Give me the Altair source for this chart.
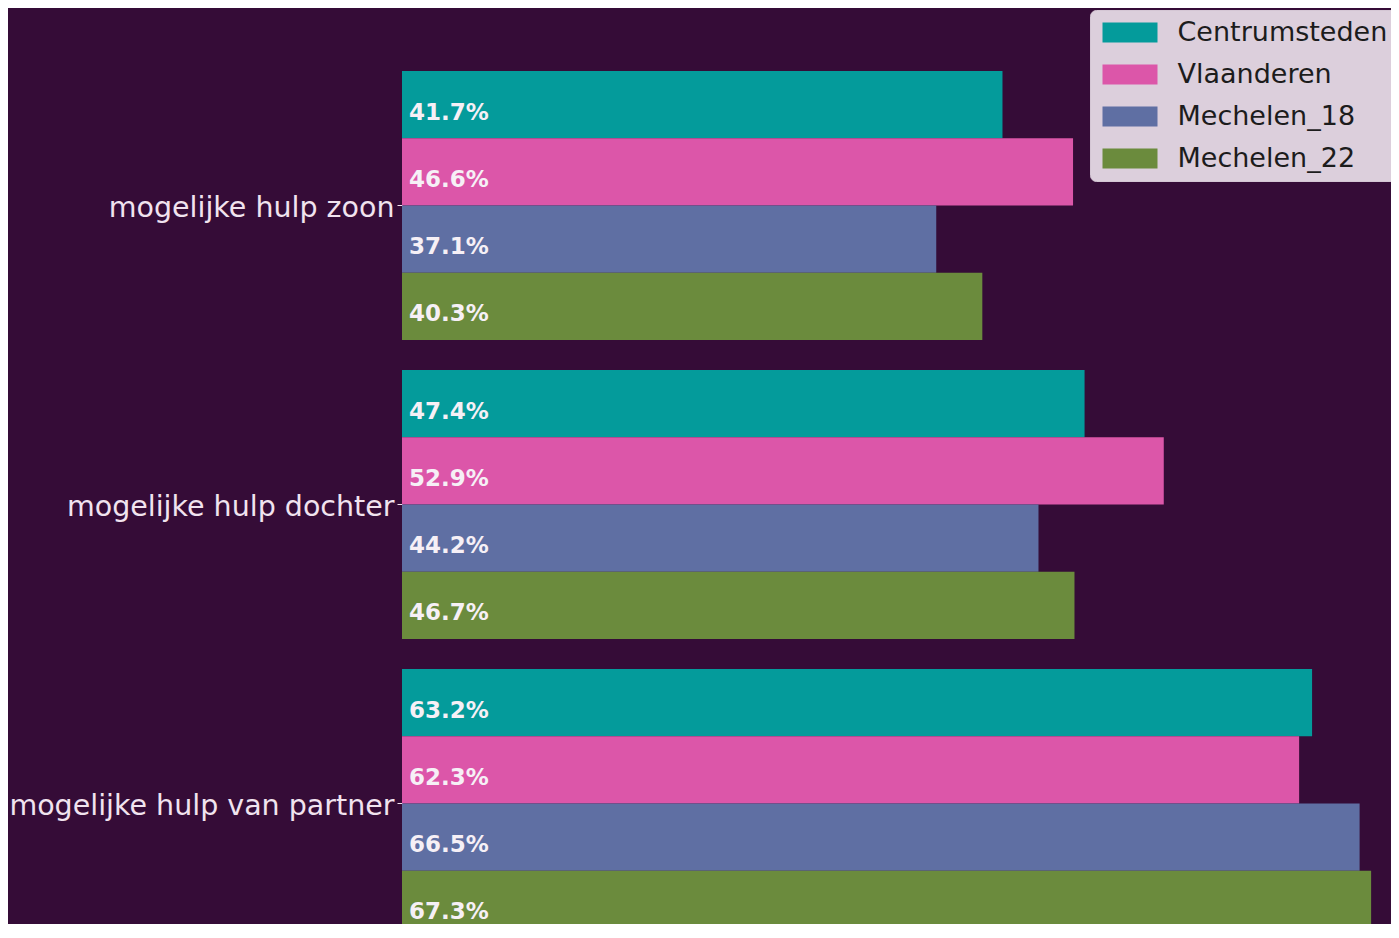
import altair as alt
import pandas as pd

categories = ["mogelijke hulp zoon", "mogelijke hulp dochter", "mogelijke hulp van partner"]
series = ["Centrumsteden", "Vlaanderen", "Mechelen_18", "Mechelen_22"]
centrumsteden = [41.7, 47.4, 63.2]
vlaanderen = [46.6, 52.9, 62.3]
mechelen_18 = [37.1, 44.2, 66.5]
mechelen_22 = [40.3, 46.7, 67.3]
colors = ["#049b9b", "#dc56a9", "#5f6fa3", "#6b8b3d"]

rows = []
for s, vals in zip(series, [centrumsteden, vlaanderen, mechelen_18, mechelen_22]):
    for c, v in zip(categories, vals):
        rows.append({"categorie": c, "reeks": s, "waarde": v, "label": f"{v:.1f}%"})
df = pd.DataFrame(rows)

label_color = "#f1e3ef"

y = alt.Y(
    "categorie:N",
    sort=categories,
    title=None,
    scale=alt.Scale(range=[0, 930], paddingInner=0.1, paddingOuter=0.1052, align=1),
    axis=alt.Axis(
        labelFontSize=28.5,
        labelColor=label_color,
        labelFont="DejaVu Sans",
        labelLimit=400,
        labelOffset=3,
        tickColor=label_color,
        tickSize=5,
        tickWidth=1,
        labelPadding=3,
        domain=False,
        grid=False,
    ),
)
yoff = alt.YOffset("reeks:N", sort=series)
xscale = alt.Scale(domain=[0, 68.68], nice=False, zero=True)

bars = alt.Chart(df).mark_bar().encode(
    x=alt.X("waarde:Q", scale=xscale, axis=None),
    y=y,
    yOffset=yoff,
    color=alt.Color(
        "reeks:N",
        sort=series,
        scale=alt.Scale(domain=series, range=colors),
        legend=alt.Legend(
            title=None,
            orient="none",
            legendX=688,
            legendY=2,
            symbolType="M-2.75,-1H2.75V1H-2.75Z",
            symbolSize=400,
            symbolOffset=17.5,
            symbolStrokeWidth=0,
            symbolOpacity=1,
            labelFontSize=27,
            labelColor="#1c1c1c",
            labelFont="DejaVu Sans",
            labelOffset=34,
            labelLimit=400,
            fillColor="#dccfdc",
            strokeColor="#d4c6d4",
            cornerRadius=6,
            padding=9,
            rowPadding=14,
        ),
    ),
)

text = alt.Chart(df).transform_calculate(nul="0").mark_text(
    align="left",
    baseline="alphabetic",
    dx=7,
    dy=15,
    font="DejaVu Sans",
    fontWeight="bold",
    fontSize=23,
    color="#f6f0f6",
).encode(
    x=alt.X("nul:Q", scale=xscale, axis=None),
    y=y,
    yOffset=yoff,
    text="label:N",
)

chart = (
    alt.layer(bars, text)
    .properties(
        width=989,
        height=916,
        autosize=alt.AutoSizeParams(type="none"),
        padding={"left": 394, "top": 0, "right": 0, "bottom": 0},
    )
    .configure(background="#350c37")
    .configure_view(stroke=None)
)

chart.save("out.html", embed_options={"renderer": "svg", "actions": False})
